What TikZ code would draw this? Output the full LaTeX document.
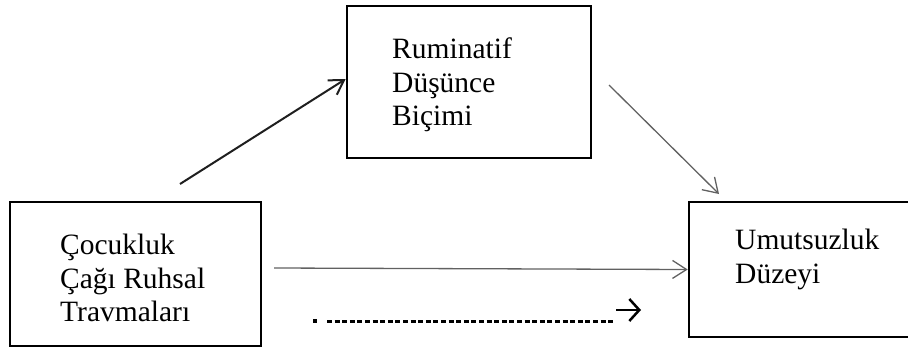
\documentclass[tikz,border=0pt]{standalone}
\usepackage{fontspec}
\setmainfont{Liberation Serif}
\usetikzlibrary{arrows.meta}

\tikzset{
  boxnode/.style={draw, line width=2.6pt, inner sep=0pt},
  boxtext/.style={anchor=north west, inner sep=0pt, align=left, font=\fontsize{29.5}{33.5}\selectfont},
  thinarrow/.style={draw=black!62, line width=1.3pt, -{Straight Barb[length=14pt,width=18pt]}},
  thickarrow/.style={draw=black!88, line width=2pt, -{Straight Barb[length=14pt,width=17pt]}}
}

\begin{document}
\begin{tikzpicture}[x=1pt, y=-1pt]
    \useasboundingbox (0,0) rectangle (908,348);
    \clip (0,0) rectangle (908,348);

    % boxes
    \node[boxnode, minimum width=251pt, minimum height=144pt] (trauma) at (135.5,274) {};
    \node[boxnode, minimum width=244pt, minimum height=152pt] (rumination) at (469,82) {};
    \node[boxnode, minimum width=320pt, minimum height=135pt] (hopeless) at (849,269.5) {};

    \node[boxtext] (traumatext) at (60,234) {Çocukluk\\Çağı Ruhsal\\Travmaları};
    \node[boxtext] (ruminationtext) at (392,38) {Ruminatif\\Düşünce\\Biçimi};
    \node[boxtext] (hopelesstext) at (735,229) {Umutsuzluk\\Düzeyi};

    % paths
    \coordinate (pathA) at (180,184);
    \coordinate (pathB) at (609,85);
    \coordinate (pathC) at (274,268);
    \coordinate (pathBend) at (719,194);

    \draw[thickarrow] (pathA) -- ([yshift=3pt]rumination.west);
    \draw[thinarrow] (pathB) -- (pathBend);
    \draw[thinarrow] (pathC) -- (hopeless.west);

    % dotted line under the direct path
    \coordinate (dotpos) at (315,321);
    \coordinate (dashstart) at (327,321);
    \coordinate (dashend) at (613,321);
    \coordinate (headstart) at (616,310);
    \coordinate (headend) at (641,310);

    \fill (dotpos) +(-2,-2) rectangle +(2,2);
    \draw[line width=3pt, dash pattern=on 5pt off 2.6pt] (dashstart) -- (dashend);
    \draw[line width=2.5pt, -{Straight Barb[length=10pt,width=22pt]}] (headstart) -- (headend);
\end{tikzpicture}
\end{document}
